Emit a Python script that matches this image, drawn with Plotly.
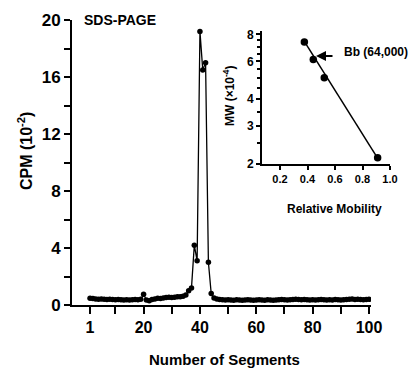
import plotly.graph_objects as go

W, H = 412, 372

# ---- data ----
segments = list(range(1, 101))
cpm = [0.48, 0.45, 0.42, 0.40, 0.42, 0.40, 0.38, 0.40, 0.38, 0.36,
       0.38, 0.36, 0.35, 0.36, 0.35, 0.36, 0.38, 0.36, 0.40, 0.75,
       0.35, 0.30, 0.38, 0.42, 0.48, 0.45, 0.50, 0.52, 0.55, 0.52,
       0.55, 0.58, 0.58, 0.62, 0.70, 1.00, 1.20, 4.20, 3.10, 19.2,
       16.5, 17.0, 3.00, 0.80, 0.50, 0.42, 0.38, 0.36, 0.35, 0.36,
       0.35, 0.34, 0.36, 0.35, 0.34, 0.35, 0.36, 0.35, 0.34, 0.35,
       0.36, 0.35, 0.34, 0.36, 0.35, 0.34, 0.35, 0.36, 0.38, 0.36,
       0.35, 0.36, 0.38, 0.40, 0.38, 0.36, 0.38, 0.36, 0.35, 0.36,
       0.35, 0.36, 0.38, 0.36, 0.35, 0.36, 0.35, 0.38, 0.36, 0.35,
       0.36, 0.38, 0.40, 0.42, 0.38, 0.40, 0.38, 0.36, 0.38, 0.40]

x_ticks = [1, 20, 40, 60, 80, 100]
x_minor = [10, 30, 50, 70, 90]
y_ticks = [0, 4, 8, 12, 16, 20]
y_minor = [2, 6, 10, 14, 18]

mobility = [0.377, 0.442, 0.522, 0.91]
mw = [7.38, 6.12, 5.03, 2.14]
fit_mobility = [0.37, 0.92]
fit_mw = [7.55, 2.08]
inset_yticks = [2, 3, 4, 6, 8]
inset_yminor = [2.5, 3.5, 4.5, 5, 5.5, 6.5, 7, 7.5]
inset_xticks = [0.2, 0.4, 0.6, 0.8, 1.0]
inset_xticktext = ["0.2", "0.4", "0.6", "0.8", "1.0"]

# ---- layout helpers (pixel -> paper) ----
def px(x):
    return x / W

def py(y):
    return 1 - y / H

FONT = "Liberation Sans, Arial, sans-serif"

def bf(size):
    return dict(size=size, family=FONT, color="black")

def b(s):
    return "<b>" + str(s) + "</b>"

fig = go.Figure()
fig.add_trace(go.Scatter(x=segments, y=cpm, mode="lines+markers",
                         line=dict(color="black", width=1.3),
                         marker=dict(color="black", size=5.5),
                         xaxis="x", yaxis="y", showlegend=False))
fig.add_trace(go.Scatter(x=fit_mobility, y=fit_mw, mode="lines",
                         line=dict(color="black", width=1.5),
                         xaxis="x2", yaxis="y2", showlegend=False))
fig.add_trace(go.Scatter(x=mobility, y=mw, mode="markers",
                         marker=dict(color="black", size=7.5),
                         xaxis="x2", yaxis="y2", showlegend=False))

axis_common = dict(showgrid=False, zeroline=False, showline=True,
                   linecolor="black", linewidth=2, ticks="outside",
                   tickcolor="black", tickwidth=2, automargin=False)

fig.update_layout(
    width=W, height=H,
    margin=dict(l=0, r=0, t=0, b=0),
    paper_bgcolor="white", plot_bgcolor="rgba(0,0,0,0)",
    font=dict(family=FONT, color="black"),
    xaxis=dict(domain=[px(72), px(371)], range=[-5.4, 100.7],
               tickvals=x_ticks, ticktext=[b(t) for t in x_ticks], ticklen=7,
               minor=dict(tickvals=x_minor, ticklen=7,
                          tickcolor="black", tickwidth=2, ticks="outside"),
               tickfont=bf(16), anchor="y", **axis_common),
    yaxis=dict(domain=[py(305), py(20)], range=[0, 20],
               tickvals=y_ticks, ticktext=[b(t) for t in y_ticks], ticklen=6,
               minor=dict(tickvals=y_minor, ticklen=6,
                          tickcolor="black", tickwidth=2, ticks="outside"),
               tickfont=bf(17), anchor="x", **axis_common),
    xaxis2=dict(domain=[px(262), px(390)], range=[0.069, 1.0],
                tickvals=inset_xticks, ticktext=[b(t) for t in inset_xticktext],
                ticklen=4, tickfont=bf(11), anchor="y2", **axis_common),
    yaxis2=dict(domain=[py(164), py(31)], type="log",
                range=[0.30103, 0.919], tickvals=inset_yticks,
                ticktext=[b(t) for t in inset_yticks], ticklen=4,
                minor=dict(tickvals=inset_yminor, ticklen=3,
                           tickcolor="black", tickwidth=1.5, ticks="outside"),
                tickfont=bf(12), anchor="x2", **axis_common),
)

def label(x, y, text, size, angle=0):
    fig.add_annotation(x=px(x), y=py(y), xref="paper", yref="paper",
                       xanchor="center", yanchor="middle",
                       text=b(text), showarrow=False, textangle=angle,
                       font=bf(size))

label(120, 20, "SDS-PAGE", 14)
label(25, 151, "CPM (10<sup>-2</sup>)", 16, -90)
label(224, 359, "Number of Segments", 15)
label(334, 209, "Relative Mobility", 12)
label(229, 96, "MW (×10<sup>-4</sup>)", 12, -90)
label(376, 52, "Bb (64,000)", 12)

fig.add_annotation(x=px(316), y=py(56), xref="paper", yref="paper",
                   ax=18, ay=0, axref="pixel", ayref="pixel",
                   text="", showarrow=True, arrowhead=2, arrowsize=1,
                   arrowwidth=2, arrowcolor="black")

fig.write_html("out.html",
               config={"displayModeBar": False},
               post_script="document.body.style.margin='0px';")
